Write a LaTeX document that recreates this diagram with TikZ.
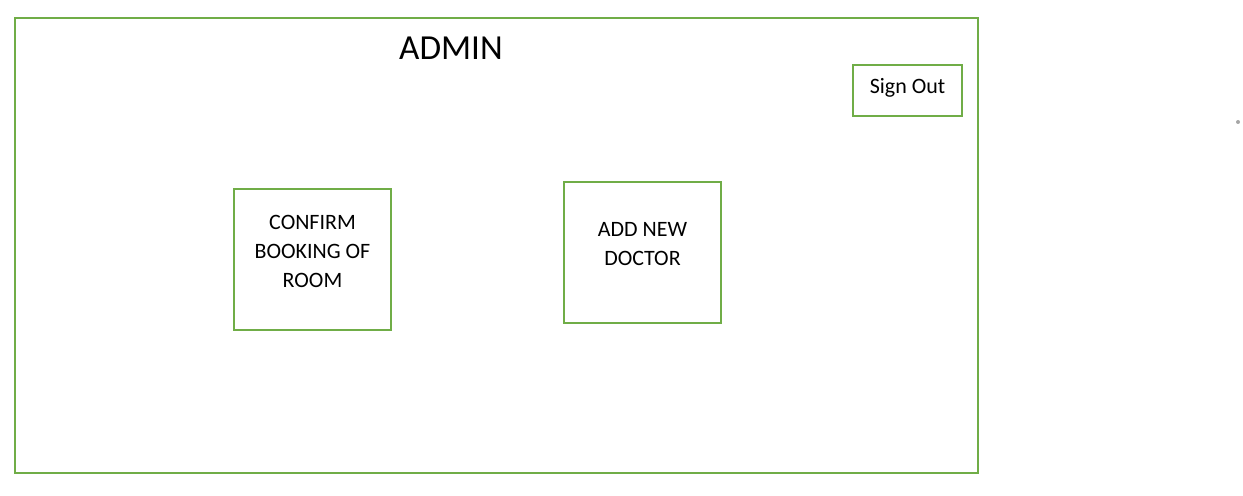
\documentclass[tikz,border=0pt]{standalone}
\usepackage{fontspec}
\setmainfont{Carlito}
\definecolor{boxgreen}{HTML}{70AD47}

\begin{document}
\begin{tikzpicture}[x=0.02cm, y=-0.02cm,
    panel/.style={draw=boxgreen, line width=1.1pt, inner sep=0pt},
    btntext/.style={font=\fontsize{12.5}{16.5}\selectfont, align=center}]
    \useasboundingbox (0,0) rectangle (1243,496);
    % Admin window with its buttons
    \node[panel, minimum width=19.26cm, minimum height=9.1cm] (window) at (496.5,245.5) {};
    \node[font=\fontsize{20}{24}\selectfont] (title) at (451,48) {ADMIN};
    \node[panel, minimum width=2.18cm, minimum height=1.02cm,
        label={[btntext, yshift=0.05cm]center:{Sign Out}}] (signout) at (907.5,90.5) {};
    \node[panel, minimum width=3.14cm, minimum height=2.82cm,
        label={[btntext, yshift=0.17cm]center:{CONFIRM\\BOOKING OF\\ROOM}}] (confirm) at (312.5,259.5) {};
    \node[panel, minimum width=3.14cm, minimum height=2.82cm,
        label={[btntext, yshift=0.17cm]center:{ADD NEW\\DOCTOR}}] (adddoctor) at (642.5,252.5) {};
    \fill[gray!70] (1238,122) circle (0.04cm);
\end{tikzpicture}
\end{document}
